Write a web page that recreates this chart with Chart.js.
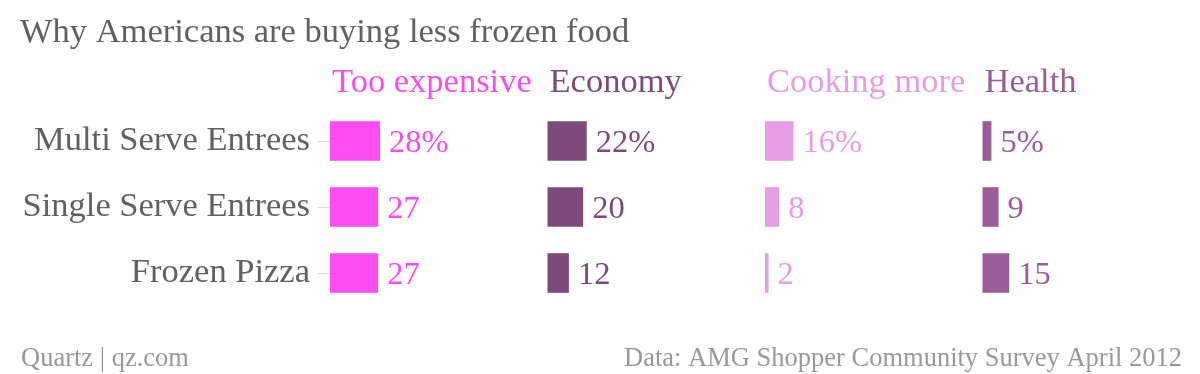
<!DOCTYPE html>
<html>
<head>
<meta charset="utf-8">
<script src="https://cdn.jsdelivr.net/npm/chart.js@4"></script>
<style>
  html, body { margin: 0; padding: 0; background: #fff; }
  #wrap { width: 1200px; height: 374px; }
</style>
</head>
<body>
<div id="wrap"><canvas id="chart"></canvas></div>
<script>
// data (percent of shoppers)
const categories = ["Multi Serve Entrees", "Single Serve Entrees", "Frozen Pizza"];
const panels = ["Too expensive", "Economy", "Cooking more", "Health"];
const tooExpensive = [28, 27, 27];
const economy = [22, 20, 12];
const cookingMore = [16, 8, 2];
const health = [5, 9, 15];

const title = "Why Americans are buying less frozen food";
const sourceLeft = "Quartz | qz.com";
const sourceRight = "Data: AMG Shopper Community Survey April 2012";

const colors = ["#ff4cf2", "#7e4a7c", "#e69de6", "#9a5d98"];
const FONT = "'Liberation Serif', serif";
const STEP = 122; // width of each small multiple, in value units

const series = [tooExpensive, economy, cookingMore, health];

// every panel sits on the same x scale, shifted by STEP
const datasets = series.map((vals, i) => ({
  label: panels[i],
  data: vals.map(v => [i * STEP, i * STEP + v]),
  raw: vals,
  backgroundColor: colors[i],
  borderWidth: 0,
  grouped: false,
  barPercentage: 0.6,
  categoryPercentage: 1
}));

const extras = {
  id: "extras",
  afterDraw(chart) {
    const ctx = chart.ctx;
    const x = chart.scales.x;
    ctx.save();

    ctx.font = "34.5px " + FONT;
    ctx.fillStyle = "#616161";
    ctx.textBaseline = "alphabetic";
    ctx.textAlign = "left";
    ctx.fillText(title, 20, 42);

    // panel headers
    ctx.font = "34.5px " + FONT;
    panels.forEach((p, i) => {
      ctx.fillStyle = colors[i];
      ctx.fillText(p, x.getPixelForValue(i * STEP) + 2, 92);
    });

    // value labels
    ctx.font = "32.5px " + FONT;
    ctx.textBaseline = "middle";
    chart.data.datasets.forEach((ds, i) => {
      chart.getDatasetMeta(i).data.forEach((bar, j) => {
        const txt = ds.raw[j] + (j === 0 ? "%" : "");
        ctx.fillStyle = colors[i];
        ctx.fillText(txt, bar.x + 9, bar.y + 2);
      });
    });

    // footer
    ctx.font = "26.5px " + FONT;
    ctx.fillStyle = "#999999";
    ctx.textBaseline = "alphabetic";
    ctx.fillText(sourceLeft, 21, 366);
    ctx.textAlign = "right";
    ctx.fillText(sourceRight, 1182, 366);
    ctx.restore();
  }
};

new Chart(document.getElementById("chart"), {
  type: "bar",
  data: { labels: categories, datasets: datasets },
  options: {
    indexAxis: "y",
    responsive: true,
    maintainAspectRatio: false,
    animation: false,
    layout: { padding: { top: 108, bottom: 68, left: 0, right: 0 } },
    plugins: {
      legend: { display: false },
      tooltip: { enabled: false }
    },
    scales: {
      x: { display: false, min: 0, max: STEP * 4 },
      y: {
        afterFit: s => { s.width = 330; },
        border: { display: false },
        grid: {
          offset: false,
          drawOnChartArea: false,
          drawTicks: true,
          tickLength: 12,
          tickColor: "#dddddd"
        },
        ticks: {
          padding: 8,
          color: "#616161",
          font: { family: FONT, size: 34.5 }
        }
      }
    }
  },
  plugins: [extras]
});
</script>
</body>
</html>
